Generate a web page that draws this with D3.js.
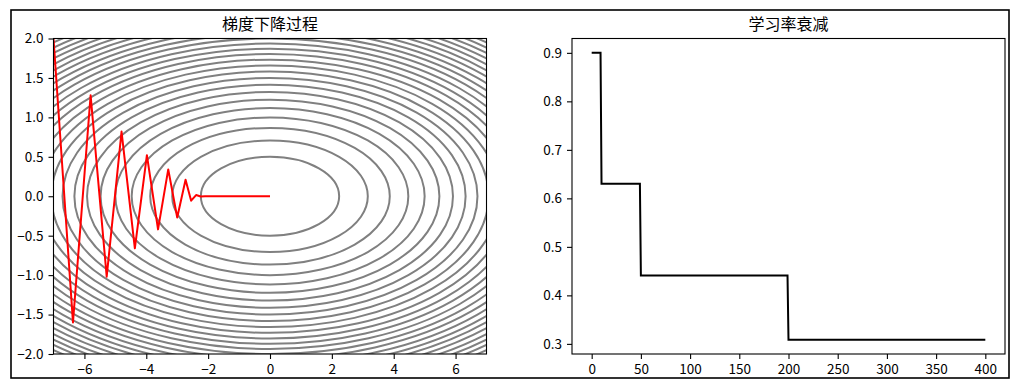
<!DOCTYPE html>
<html>
<head>
<meta charset="utf-8">
<script src="https://cdn.jsdelivr.net/npm/d3@7"></script>
<style>
  html, body { margin: 0; padding: 0; background: #fff; }
  svg { display: block; }
  text { font-family: "Noto Sans CJK SC", "DejaVu Sans", sans-serif; }
</style>
</head>
<body>
<svg id="fig" width="1027" height="390"></svg>
<script>
// ---------- data ----------
const titleLeft = "梯度下降过程";
const titleRight = "学习率衰减";

// contour levels of f(x, y) = x^2/20 + y^2
const contourLevels = [0.25, 0.5, 0.75, 1.0, 1.25, 1.5, 1.75, 2.0, 2.25, 2.5, 2.75, 3.0,
  3.25, 3.5, 3.75, 4.0, 4.25, 4.5, 4.75, 5.0, 5.25, 5.5, 5.75, 6.0, 6.25];
const contourXScale = 20; // x^2 / 20

// gradient-descent path
const pathX = [-7.0, -6.37, -5.80, -5.28, -4.80, -4.37, -3.98, -3.62, -3.29, -3.00, -2.73,
  -2.55, -2.39, -2.24, -2.10, -1.60, -1.00, -0.50, -0.20, -0.05, 0.0];
const pathY = [2.0, -1.60, 1.28, -1.02, 0.82, -0.66, 0.52, -0.42, 0.34, -0.27, 0.21,
  -0.056, 0.015, -0.004, 0.001, 0.0, 0.0, 0.0, 0.0, 0.0, 0.0];

const xTicksLeft = [-6, -4, -2, 0, 2, 4, 6];
const yTicksLeft = [-2.0, -1.5, -1.0, -0.5, 0.0, 0.5, 1.0, 1.5, 2.0];

// learning-rate schedule
const epochs = [0, 9, 10, 49, 50, 199, 200, 400];
const lrValues = [0.9, 0.9, 0.63, 0.63, 0.441, 0.441, 0.3087, 0.3087];
const xTicksRight = [0, 50, 100, 150, 200, 250, 300, 350, 400];
const yTicksRight = [0.3, 0.4, 0.5, 0.6, 0.7, 0.8, 0.9];

// ---------- layout ----------
const svg = d3.select("#fig");
const L = {x0: 53.5, x1: 486.5, y0: 38.5, y1: 354};
const R = {x0: 572, x1: 1005, y0: 38.5, y1: 354};
const tickFont = "13.5px";
const fmt1 = d3.format(".1f");

// figure frame
svg.append("rect").attr("x", 11).attr("y", 10).attr("width", 998).attr("height", 368)
  .attr("fill", "none").attr("stroke", "#000").attr("stroke-width", 1.6);

// ---------- left: contour + GD path ----------
const xL = d3.scaleLinear().domain([-7, 7]).range([L.x0, L.x1]);
const yL = d3.scaleLinear().domain([-2, 2]).range([L.y1, L.y0]);

svg.append("defs").append("clipPath").attr("id", "clipL")
  .append("rect").attr("x", L.x0).attr("y", L.y0)
  .attr("width", L.x1 - L.x0).attr("height", L.y1 - L.y0);

const gL = svg.append("g").attr("clip-path", "url(#clipL)");
gL.selectAll("ellipse.c").data(contourLevels).join("ellipse")
  .attr("class", "c")
  .attr("cx", xL(0)).attr("cy", yL(0))
  .attr("rx", d => xL(Math.sqrt(contourXScale * d)) - xL(0))
  .attr("ry", d => yL(0) - yL(Math.sqrt(d)))
  .attr("fill", "none").attr("stroke", "#808080").attr("stroke-width", 2);

const pts = pathX.map((x, i) => [x, pathY[i]]);
gL.append("path").datum(pts)
  .attr("d", d3.line().x(d => xL(d[0])).y(d => yL(d[1])))
  .attr("fill", "none").attr("stroke", "#ff0000").attr("stroke-width", 2)
  .attr("stroke-linejoin", "round");

function styleAxis(g) {
  g.select(".domain").remove();
  g.selectAll(".tick line").attr("stroke", "#000").attr("stroke-width", 1.1);
  g.selectAll(".tick text").attr("fill", "#000").style("font-size", tickFont)
    .style("font-family", '"Noto Sans CJK SC", "DejaVu Sans", sans-serif');
}

svg.append("g").attr("transform", `translate(0,${L.y1})`)
  .call(d3.axisBottom(xL).tickValues(xTicksLeft).tickSize(5).tickPadding(5).tickFormat(d3.format("d")))
  .call(styleAxis);
svg.append("g").attr("transform", `translate(${L.x0},0)`)
  .call(d3.axisLeft(yL).tickValues(yTicksLeft).tickSize(5).tickPadding(5).tickFormat(fmt1))
  .call(styleAxis);

svg.append("rect").attr("x", L.x0).attr("y", L.y0)
  .attr("width", L.x1 - L.x0).attr("height", L.y1 - L.y0)
  .attr("fill", "none").attr("stroke", "#000").attr("stroke-width", 1.1);

svg.append("text").attr("x", (L.x0 + L.x1) / 2).attr("y", 30)
  .attr("text-anchor", "middle").style("font-size", "16px").attr("fill", "#000")
  .text(titleLeft);

// ---------- right: learning-rate decay ----------
const xR = d3.scaleLinear().domain([-20, 420]).range([R.x0, R.x1]);
const yR = d3.scaleLinear().domain([0.27913, 0.92957]).range([R.y1, R.y0]);

const lrPts = epochs.map((e, i) => [e, lrValues[i]]);
svg.append("path").datum(lrPts)
  .attr("d", d3.line().x(d => xR(d[0])).y(d => yR(d[1])))
  .attr("fill", "none").attr("stroke", "#000").attr("stroke-width", 2);

svg.append("g").attr("transform", `translate(0,${R.y1})`)
  .call(d3.axisBottom(xR).tickValues(xTicksRight).tickSize(5).tickPadding(5).tickFormat(d3.format("d")))
  .call(styleAxis);
svg.append("g").attr("transform", `translate(${R.x0},0)`)
  .call(d3.axisLeft(yR).tickValues(yTicksRight).tickSize(5).tickPadding(5).tickFormat(fmt1))
  .call(styleAxis);

svg.append("rect").attr("x", R.x0).attr("y", R.y0)
  .attr("width", R.x1 - R.x0).attr("height", R.y1 - R.y0)
  .attr("fill", "none").attr("stroke", "#000").attr("stroke-width", 1.1);

svg.append("text").attr("x", (R.x0 + R.x1) / 2).attr("y", 30)
  .attr("text-anchor", "middle").style("font-size", "16px").attr("fill", "#000")
  .text(titleRight);
</script>
</body>
</html>
